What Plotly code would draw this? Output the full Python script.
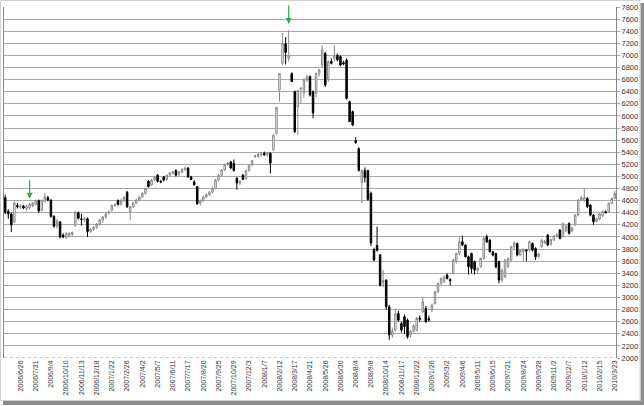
import pandas as pd
import plotly.graph_objects as go

OPEN = [4650,4420,4380,4250,4520,4490,4510,4470,4480,4520,4540,4600,4440,4590,4650,4610,4340,4180,4250,4030,
        3990,4010,4040,4190,4400,4300,4280,4300,4090,4130,4160,4210,4280,4330,4400,4440,4520,4600,4540,4600,
        4740,4420,4500,4560,4610,4660,4720,4920,4860,4940,5020,4920,4990,4950,5020,5050,5100,5030,5070,5110,
        5140,4990,4910,4830,4560,4600,4660,4700,4740,4800,4940,5020,5110,5200,5240,5220,4970,4890,5020,4960,
        5100,5190,5330,5330,5360,5380,5360,5380,5440,5710,6430,6870,7190,6950,6700,6400,6150,6450,6380,6600,
        6650,6400,6370,6700,6840,7030,6620,6900,6950,7006,6980,6880,6920,6235,6070,5590,5460,4900,5100,5100,
        4720,3790,3860,3700,3250,3287,2846,2380,2460,2736,2571,2681,2626,2380,2440,2461,2660,2764,2819,2650,
        2791,2901,3094,3232,3260,3370,3298,3398,3590,3728,3921,3866,3673,3728,3590,3450,3508,3646,4004,3948,
        3756,3728,3590,3290,3343,3508,3618,3838,3893,3700,3760,3780,3783,3893,3811,3680,3838,3900,4031,3880,
        3950,4010,4114,4004,4100,4224,4100,4196,4362,4610,4600,4637,4527,4362,4260,4300,4350,4417,4417,4555,
        4637]
HIGH = [4700,4460,4400,4590,4560,4540,4530,4530,4560,4580,4620,4620,4620,4730,4680,4620,4360,4300,4260,4060,
        4080,4080,4090,4430,4420,4380,4330,4320,4150,4180,4230,4300,4350,4400,4440,4540,4560,4620,4640,4680,
        4760,4510,4580,4630,4680,4740,4810,4940,4960,5000,5040,4940,5010,5030,5070,5090,5120,5090,5130,5160,
        5150,5010,4940,4840,4620,4680,4720,4760,4830,4960,5040,5120,5210,5240,5260,5280,4990,4940,5040,5110,
        5200,5270,5360,5390,5400,5410,5400,5400,5700,6150,6710,7370,7300,7420,6720,6420,6430,6470,6620,6680,
        6670,6420,6720,6780,7170,7060,6920,6950,7170,7030,7000,6910,6950,6250,6090,5650,5480,5120,5150,5110,
        4750,3820,4170,3720,3450,3300,2880,2500,2820,2780,2600,2720,2650,2460,2560,2680,2700,3000,2860,2700,
        2900,3110,3250,3330,3360,3400,3320,3640,3740,4000,4020,3880,3690,3740,3610,3500,3660,4010,4040,3960,
        3770,3740,3610,3480,3640,3660,3850,3930,3910,3800,3810,3800,3940,3910,3830,3740,3960,3950,4050,3970,
        4030,4060,4130,4240,4200,4240,4170,4380,4630,4680,4802,4660,4540,4380,4320,4400,4440,4440,4570,4650,
        4760]
LOW = [4380,4300,4080,4230,4470,4460,4460,4430,4450,4490,4520,4400,4420,4570,4590,4320,4150,4140,3980,3980,
       3970,3990,4020,4170,4290,4190,4240,4000,4070,4100,4130,4190,4230,4300,4370,4420,4500,4520,4520,4580,
       4480,4280,4480,4540,4590,4640,4700,4820,4840,4920,4900,4890,4920,4930,5000,5030,5000,5010,5050,5090,
       4980,4940,4850,4530,4520,4580,4640,4680,4720,4790,4920,5000,5090,5170,5120,5080,4780,4860,4940,4950,
       5080,5170,5300,5310,5330,5340,5330,5050,5420,5690,6235,6840,6850,6900,6560,5720,5680,6200,6300,6560,
       6320,5960,6300,6650,6800,6480,6560,6850,6900,6900,6820,6840,6270,5900,5830,5540,5080,4560,4900,4600,
       3850,3600,3760,3180,3170,2800,2300,2330,2440,2600,2420,2400,2320,2340,2420,2440,2600,2740,2580,2600,
       2760,2880,3070,3210,3240,3300,3200,3380,3560,3700,3850,3660,3380,3400,3380,3400,3490,3620,3900,3740,
       3680,3480,3230,3250,3320,3490,3600,3800,3680,3680,3600,3600,3760,3760,3620,3660,3820,3880,3850,3860,
       3930,3990,3960,3990,4080,4040,4080,4180,4340,4590,4580,4480,4340,4200,4240,4280,4330,4390,4400,4540,
       4620]
CLOSE = [4400,4380,4200,4560,4500,4510,4480,4510,4540,4560,4600,4430,4600,4660,4610,4340,4180,4260,4000,4000,
         4060,4060,4070,4410,4310,4290,4300,4090,4130,4160,4210,4280,4330,4380,4410,4520,4530,4540,4600,4650,
         4500,4500,4560,4610,4660,4720,4800,4830,4940,4990,4920,4910,4940,5020,5060,5080,5020,5080,5120,5140,
         4990,4950,4860,4550,4600,4660,4700,4740,4800,4940,5020,5110,5200,5220,5140,5100,4890,4920,4950,5100,
         5180,5260,5340,5370,5380,5360,5390,5220,5680,6140,6700,7200,7050,7000,6570,5740,6420,6460,6600,6650,
         6345,6050,6700,6760,7090,6510,6900,6870,7006,6924,6840,6860,6290,5905,5850,5560,5100,5100,4980,4620,
         3900,3620,3780,3205,3280,2846,2380,2440,2730,2626,2461,2516,2351,2440,2530,2653,2640,2929,2598,2630,
         2874,3094,3232,3315,3343,3315,3276,3618,3728,3921,3866,3673,3508,3480,3453,3480,3646,3976,3921,3756,
         3701,3508,3287,3450,3618,3646,3838,3900,3700,3780,3790,3770,3921,3783,3673,3720,3948,3930,3866,3960,
         4020,4040,3976,4224,4180,4059,4150,4362,4610,4650,4650,4500,4362,4252,4300,4380,4420,4400,4555,4637,
         4720]

TICK_LABELS = ["2006/6/26","2006/7/31","2006/9/4","2006/10/10","2006/11/13","2006/12/18","2007/1/22",
               "2007/2/26","2007/4/2","2007/5/7","2007/6/11","2007/7/17","2007/8/20","2007/9/25",
               "2007/10/29","2007/12/3","2008/1/7","2008/2/12","2008/3/17","2008/4/21","2008/5/26",
               "2008/6/30","2008/8/4","2008/9/8","2008/10/14","2008/11/17","2008/12/22","2009/1/26",
               "2009/3/2","2009/4/6","2009/5/11","2009/6/15","2009/7/21","2009/8/24","2009/9/28",
               "2009/11/2","2009/12/7","2010/1/12","2010/2/15","2010/3/23"]
Y_TICKS = list(range(2000, 7801, 200))

weeks = list(pd.date_range("2006-05-22", periods=len(CLOSE), freq="7D").strftime("%Y-%m-%d"))
tick_vals = weeks[5::5]

fig = go.Figure(go.Candlestick(
    x=weeks, open=OPEN, high=HIGH, low=LOW, close=CLOSE,
    increasing=dict(line=dict(color="#8a8a8a", width=1), fillcolor="#ffffff"),
    decreasing=dict(line=dict(color="#000000", width=1), fillcolor="#000000"),
    whiskerwidth=0, showlegend=False, hoverinfo="skip"))

# plot area: left 4px, width 612px, top 7px, height 351px
def px_x(p):
    return (p - 4) / 612.0

def px_y(p):
    return (358 - p) / 351.0

shapes = [
    dict(type="line", xref="paper", yref="y", x0=0, x1=1, y0=2000, y1=2000,
         line=dict(color="#ffffff", width=2), layer="above"),
    dict(type="line", xref="paper", yref="y", x0=0, x1=1, y0=2000, y1=2000,
         line=dict(color="#8a8a8a", width=1, dash="dot"), layer="above"),
    # picture frame with drop shadow
    dict(type="rect", xref="paper", yref="paper", x0=px_x(3), x1=px_x(644), y0=px_y(405), y1=px_y(401),
         fillcolor="#8c8c8c", line=dict(width=0), layer="above"),
    dict(type="rect", xref="paper", yref="paper", x0=px_x(640.5), x1=px_x(644), y0=px_y(405), y1=px_y(3),
         fillcolor="#8c8c8c", line=dict(width=0), layer="above"),
    dict(type="rect", xref="paper", yref="paper", x0=px_x(0.5), x1=px_x(640), y0=px_y(400.5), y1=px_y(0.5),
         line=dict(color="#d0d0d0", width=1), fillcolor="rgba(0,0,0,0)", layer="above"),
]

ann_style = dict(text="", showarrow=True, arrowhead=2, arrowsize=1, arrowwidth=1.2,
                 arrowcolor="#2aaa5e", ax=0, ay=-20)
annotations = [
    dict(x=weeks[8], y=4630, xref="x", yref="y", **ann_style),
    dict(x=weeks[93], y=7520, xref="x", yref="y", **ann_style),
]

fig.update_layout(
    width=644, height=406,
    margin=dict(l=4, r=28, t=7, b=48),
    paper_bgcolor="#ffffff", plot_bgcolor="#ffffff",
    font=dict(family="Liberation Sans, Arial, sans-serif", color="#333333"),
    shapes=shapes, annotations=annotations,
    xaxis=dict(type="category", range=[-0.4, len(CLOSE) - 0.6], rangeslider=dict(visible=False),
               tickmode="array", tickvals=tick_vals, ticktext=TICK_LABELS, tickangle=-90,
               tickfont=dict(size=7), showgrid=False, ticks="", showline=False, zeroline=False),
    yaxis=dict(side="right", range=[2000, 7800], tickvals=Y_TICKS, tickfont=dict(size=7.5),
               showgrid=True, gridcolor="#a9a9a9", gridwidth=1, ticks="outside", ticklen=3,
               tickcolor="#a9a9a9", showline=True, linecolor="#888888", linewidth=1,
               mirror=True, zeroline=False),
)

fig.write_html("out.html", config={"displayModeBar": False},
               post_script="document.body.style.margin='0';document.body.style.overflow='hidden';")
